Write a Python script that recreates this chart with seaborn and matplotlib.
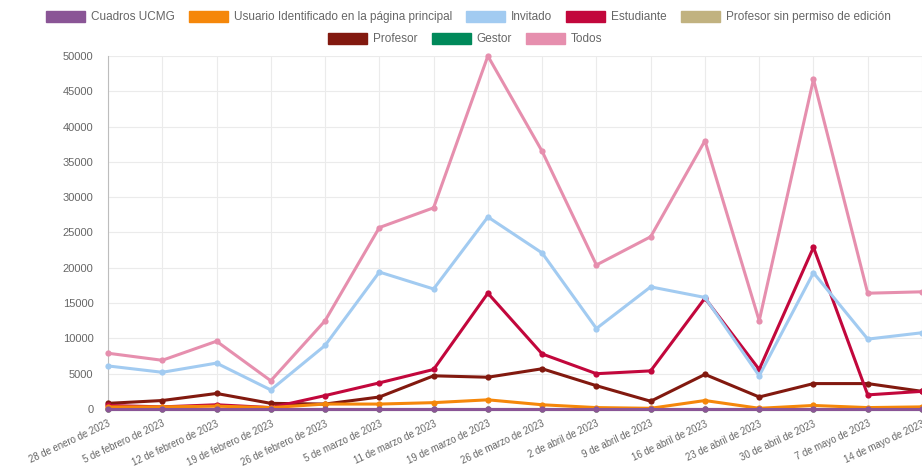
import pandas as pd
import matplotlib.pyplot as plt
import seaborn as sns
from matplotlib.patches import Patch

# Semanas (eje x)
semanas = ["28 de enero de 2023", "5 de febrero de 2023", "12 de febrero de 2023",
           "19 de febrero de 2023", "26 de febrero de 2023", "5 de marzo de 2023",
           "11 de marzo de 2023", "19 de marzo de 2023", "26 de marzo de 2023",
           "2 de abril de 2023", "9 de abril de 2023", "16 de abril de 2023",
           "23 de abril de 2023", "30 de abril de 2023", "7 de mayo de 2023",
           "14 de mayo de 2023"]

# Visitas por rol
cuadros_ucmg = [0, 0, 0, 0, 0, 0, 0, 0, 0, 0, 0, 0, 0, 0, 0, 0]
usuario_identificado = [300, 300, 400, 200, 700, 700, 900, 1300, 600, 200, 100, 1200, 100, 500, 200, 300]
invitado = [6100, 5200, 6500, 2700, 9000, 19400, 17000, 27200, 22100, 11400, 17300, 15800, 4700, 19300, 9900, 10800]
estudiante = [500, 300, 600, 200, 1900, 3700, 5600, 16400, 7800, 5000, 5400, 15700, 5600, 22900, 2000, 2500]
profesor_sin_edicion = [0, 0, 0, 0, 0, 0, 0, 0, 0, 0, 0, 0, 0, 0, 0, 0]
profesor = [800, 1200, 2200, 800, 700, 1700, 4700, 4500, 5700, 3300, 1100, 4900, 1700, 3600, 3600, 2500]
gestor = [0, 0, 0, 0, 0, 0, 0, 0, 0, 0, 0, 0, 0, 0, 0, 0]
todos = [7900, 6900, 9600, 4000, 12500, 25700, 28500, 50000, 36500, 20400, 24400, 38000, 12500, 46700, 16400, 16600]

series = {
    "Cuadros UCMG": cuadros_ucmg,
    "Usuario Identificado en la página principal": usuario_identificado,
    "Invitado": invitado,
    "Estudiante": estudiante,
    "Profesor sin permiso de edición": profesor_sin_edicion,
    "Profesor": profesor,
    "Gestor": gestor,
    "Todos": todos,
}
colores = {
    "Cuadros UCMG": "#8a5596",
    "Usuario Identificado en la página principal": "#f5870a",
    "Invitado": "#a2cbf1",
    "Estudiante": "#c2073c",
    "Profesor sin permiso de edición": "#c1b280",
    "Profesor": "#82190f",
    "Gestor": "#00895a",
    "Todos": "#e68fae",
}

filas = []
for nombre, valores in series.items():
    for s, v in zip(semanas, valores):
        filas.append({"semana": s, "serie": nombre, "visitas": v})
df = pd.DataFrame(filas)

sns.set_style("white")
plt.rcParams["font.family"] = ["Liberation Sans", "DejaVu Sans"]

fig = plt.figure(figsize=(9.22, 4.69), dpi=100)
ax = fig.add_axes([108 / 922, 1 - 409 / 469, 1 - 108 / 922, (409 - 56) / 469])

nombres = list(series.keys())
# the first series is drawn on top
for i, nombre in enumerate(reversed(nombres)):
    sub = df[df["serie"] == nombre]
    sns.lineplot(data=sub, x="semana", y="visitas", ax=ax, color=colores[nombre],
                 marker="o", markersize=4.5, markeredgewidth=0, linewidth=2.2,
                 sort=False, errorbar=None, zorder=3 + i, clip_on=False)

ax.set_xlim(0, len(semanas) - 1)
ax.set_ylim(0, 50000)
ax.set_yticks(range(0, 50001, 5000))
ax.set_xlabel("")
ax.set_ylabel("")
ax.grid(True, color="#ebebeb", linewidth=0.8)
for lado in ["top", "right", "bottom"]:
    ax.spines[lado].set_visible(False)
ax.spines["left"].set_color("#bdbdbd")
ax.tick_params(axis="both", length=7, color="#ebebeb", labelcolor="#666666", labelsize=8)
ax.tick_params(axis="x", labelsize=6.9, pad=0)
plt.setp(ax.get_xticklabels(), rotation=25, ha="right", rotation_mode="anchor")

# leyenda en dos filas, estilo cajas
def cajas(lista):
    return [Patch(facecolor=colores[n], edgecolor=colores[n], label=n) for n in lista]

kw = dict(frameon=False, handlelength=3.3, handleheight=1.1, handletextpad=0.5,
          columnspacing=1.2, fontsize=8.5, labelcolor="#666666", loc="center")
leg1 = fig.legend(handles=cajas(nombres[:5]), ncol=5, bbox_to_anchor=(0.508, 1 - 17 / 469), **kw)
leg2 = fig.legend(handles=cajas(nombres[5:]), ncol=3, bbox_to_anchor=(0.505, 1 - 39 / 469), **kw)

fig.savefig("out.png", dpi=100)
